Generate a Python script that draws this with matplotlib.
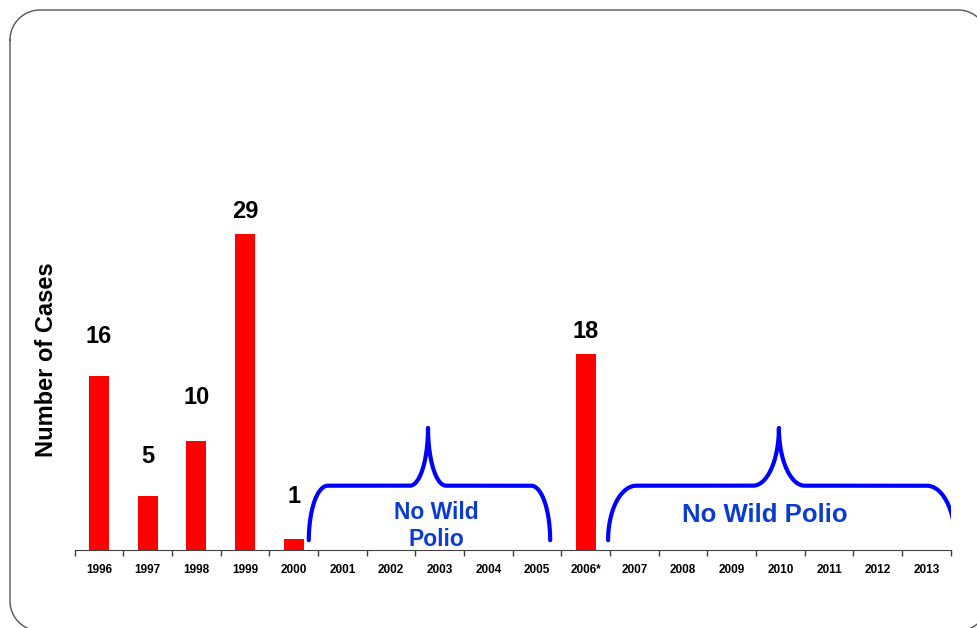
import numpy as np
import matplotlib
matplotlib.use('Agg')
import matplotlib.pyplot as plt
from matplotlib.lines import Line2D
from matplotlib.transforms import IdentityTransform

plt.rcParams['font.family'] = ['Liberation Sans', 'DejaVu Sans']
plt.rcParams['font.weight'] = 'bold'

years = ['1996', '1997', '1998', '1999', '2000', '2001', '2002', '2003', '2004',
         '2005', '2006*', '2007', '2008', '2009', '2010', '2011', '2012', '2013']
bar_years = ['1996', '1997', '1998', '1999', '2000', '2006*']
cases = [16, 5, 10, 29, 1, 18]
label_pad = [39, 39, 43, 22, 43, 22]  # px gap from bar top to label centre

# brace annotations: left end, peak, right end, corner size, cusp size (category units)
braces = [(4.31, 6.76, 9.27, 0.39, 0.37), (10.46, 13.97, 17.59, 0.58, 0.53)]
brace_text = ['No Wild\nPolio', 'No Wild Polio']
brace_text_pos = [(6.94, 2.2), (13.68, 3.2)]
brace_fs = [16.5, 18.5]

fig = plt.figure(figsize=(9.78, 6.28), dpi=100)
ax = fig.add_axes([74.7 / 978, 78 / 628, 876 / 978, 436 / 628])

xpos = [years.index(y) for y in bar_years]
ax.bar(xpos, cases, width=0.41, color='#FF0000', zorder=2)
for x, v, p in zip(xpos, cases, label_pad):
    ax.annotate(str(v), (x, v), xytext=(0, p * 0.72), textcoords='offset points',
                ha='center', va='center', fontsize=17, fontweight='bold')


def brace(x0, xp, x1, dc, dk, y0=0.9, yh=5.9, yt=11.2):
    t = np.linspace(0, np.pi / 2, 40)
    lx = x0 + dc - dc * np.cos(t)
    ly = y0 + (yh - y0) * np.sin(t)
    cx = xp - dk + dk * np.sin(t)
    cy = yt - (yt - yh) * np.cos(t)
    rx = x1 - dc + dc * np.cos(t)
    xs = np.concatenate([lx, cx, (2 * xp - cx)[::-1], rx[::-1]])
    ys = np.concatenate([ly, cy, cy[::-1], ly[::-1]])
    ax.plot(xs, ys, color='#0000FF', lw=3, solid_capstyle='round', zorder=3)


for (x0, xp, x1, dc, dk), txt, (tx, ty), fs in zip(braces, brace_text, brace_text_pos, brace_fs):
    brace(x0, xp, x1, dc, dk)
    ax.text(tx, ty, txt, ha='center', va='center', fontsize=fs, fontweight='bold',
            color='#0A3CD0', linespacing=1.2)

ax.set_xlim(-0.5, 17.5)
ax.set_ylim(0, 40)
ax.set_xticks(range(len(years)))
ax.set_xticklabels(years, fontsize=8.5, fontweight='bold')
ax.set_xticks(np.arange(-0.5, 18, 1), minor=True)
ax.tick_params(axis='x', which='major', length=0, pad=10)
ax.tick_params(axis='x', which='minor', length=4, color='#404040', width=1)
ax.set_yticks([])
for s in ['top', 'right', 'left']:
    ax.spines[s].set_visible(False)
ax.spines['bottom'].set_color('#404040')
ax.set_ylabel('Number of Cases', fontsize=17, fontweight='bold')
ax.yaxis.set_label_coords(-0.019, (550 - 360) / 436)

# rounded frame, pixel coords (origin bottom-left), right/bottom run off the page
r = 30
left, right, top, bottom = 10, 988, 618, -3
t = np.linspace(0, np.pi / 2, 30)
bx = np.concatenate([left + r - r * np.cos(t), right - r + r * np.sin(t),
                     right - r + r * np.cos(t), left + r - r * np.sin(t), [left]])
by = np.concatenate([top - r + r * np.sin(t), top - r + r * np.cos(t),
                     bottom + r - r * np.sin(t), bottom + r - r * np.cos(t), [top - r]])
fig.add_artist(Line2D(bx, by, transform=IdentityTransform(), color='#555555', lw=1))

fig.savefig('out.png', dpi=100)
